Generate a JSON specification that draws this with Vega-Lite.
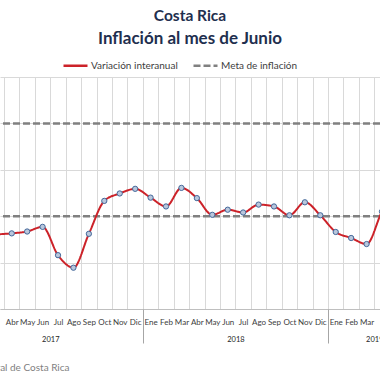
{
  "$schema": "https://vega.github.io/schema/vega-lite/v6.json",
  "autosize": {"type": "none"},
  "width": 380,
  "height": 232,
  "padding": {"left": 0, "right": 0, "top": 77, "bottom": 71},
  "background": "white",
  "title": {
    "text": "Costa Rica",
    "subtitle": "Inflación al mes de Junio",
    "anchor": "middle",
    "font": "Lato",
    "fontSize": 15.5,
    "fontWeight": "bold",
    "color": "#1F2F4F",
    "subtitleFont": "Lato",
    "subtitleFontSize": 17,
    "subtitleFontWeight": "bold",
    "subtitleColor": "#1F2F4F",
    "subtitlePadding": 7,
    "offset": 5
  },
  "config": {
    "view": {"stroke": null},
    "font": "Lato",
    "axisY": {"labels": false, "ticks": false, "domain": false, "grid": true, "gridColor": "#D9D9D9", "tickCount": 5, "title": null},
    "legend": {
      "orient": "none",
      "legendX": 62,
      "legendY": -25,
      "direction": "horizontal",
      "symbolType": "stroke",
      "symbolSize": 576,
      "symbolStrokeWidth": 2.5,
      "labelFont": "Lato",
      "labelFontSize": 10,
      "labelColor": "#404040",
      "labelOffset": 2,
      "columnPadding": 10,
      "title": null
    }
  },
  "datasets": {
    "serie": [
      {"i": 0, "mes": "Ene", "anio": 2017, "serie": "Variación interanual", "valor": 1.30},
      {"i": 1, "mes": "Feb", "anio": 2017, "serie": "Variación interanual", "valor": 1.35},
      {"i": 2, "mes": "Mar", "anio": 2017, "serie": "Variación interanual", "valor": 1.60},
      {"i": 3, "mes": "Abr", "anio": 2017, "serie": "Variación interanual", "valor": 1.63},
      {"i": 4, "mes": "May", "anio": 2017, "serie": "Variación interanual", "valor": 1.67},
      {"i": 5, "mes": "Jun", "anio": 2017, "serie": "Variación interanual", "valor": 1.77},
      {"i": 6, "mes": "Jul", "anio": 2017, "serie": "Variación interanual", "valor": 1.16},
      {"i": 7, "mes": "Ago", "anio": 2017, "serie": "Variación interanual", "valor": 0.89},
      {"i": 8, "mes": "Sep", "anio": 2017, "serie": "Variación interanual", "valor": 1.62},
      {"i": 9, "mes": "Oct", "anio": 2017, "serie": "Variación interanual", "valor": 2.33},
      {"i": 10, "mes": "Nov", "anio": 2017, "serie": "Variación interanual", "valor": 2.49},
      {"i": 11, "mes": "Dic", "anio": 2017, "serie": "Variación interanual", "valor": 2.59},
      {"i": 12, "mes": "Ene", "anio": 2018, "serie": "Variación interanual", "valor": 2.40},
      {"i": 13, "mes": "Feb", "anio": 2018, "serie": "Variación interanual", "valor": 2.21},
      {"i": 14, "mes": "Mar", "anio": 2018, "serie": "Variación interanual", "valor": 2.61},
      {"i": 15, "mes": "Abr", "anio": 2018, "serie": "Variación interanual", "valor": 2.39},
      {"i": 16, "mes": "May", "anio": 2018, "serie": "Variación interanual", "valor": 2.03},
      {"i": 17, "mes": "Jun", "anio": 2018, "serie": "Variación interanual", "valor": 2.14},
      {"i": 18, "mes": "Jul", "anio": 2018, "serie": "Variación interanual", "valor": 2.08},
      {"i": 19, "mes": "Ago", "anio": 2018, "serie": "Variación interanual", "valor": 2.25},
      {"i": 20, "mes": "Sep", "anio": 2018, "serie": "Variación interanual", "valor": 2.21},
      {"i": 21, "mes": "Oct", "anio": 2018, "serie": "Variación interanual", "valor": 2.02},
      {"i": 22, "mes": "Nov", "anio": 2018, "serie": "Variación interanual", "valor": 2.30},
      {"i": 23, "mes": "Dic", "anio": 2018, "serie": "Variación interanual", "valor": 2.02},
      {"i": 24, "mes": "Ene", "anio": 2019, "serie": "Variación interanual", "valor": 1.66},
      {"i": 25, "mes": "Feb", "anio": 2019, "serie": "Variación interanual", "valor": 1.53},
      {"i": 26, "mes": "Mar", "anio": 2019, "serie": "Variación interanual", "valor": 1.40},
      {"i": 27, "mes": "Abr", "anio": 2019, "serie": "Variación interanual", "valor": 2.10},
      {"i": 28, "mes": "May", "anio": 2019, "serie": "Variación interanual", "valor": 2.60},
      {"i": 29, "mes": "Jun", "anio": 2019, "serie": "Variación interanual", "valor": 2.40}
    ],
    "meta": [
      {"serie": "Meta de inflación", "valor": 2},
      {"serie": "Meta de inflación", "valor": 4}
    ]
  },
  "layer": [
    {
      "data": {"name": "meta"},
      "mark": {"type": "rule", "strokeWidth": 2.5},
      "encoding": {
        "y": {"field": "valor", "type": "quantitative", "title": null, "scale": {"domain": [0, 5], "nice": false}},
        "color": {"field": "serie", "type": "nominal", "scale": {"domain": ["Variación interanual", "Meta de inflación"], "range": ["#CC2229", "#808080"]}},
        "strokeDash": {"field": "serie", "type": "nominal", "scale": {"domain": ["Variación interanual", "Meta de inflación"], "range": [[1, 0], [7, 3]]}}
      }
    },
    {
      "data": {"name": "serie"},
      "mark": {"type": "line", "interpolate": "monotone", "strokeWidth": 2, "clip": true},
      "encoding": {
        "x": {
          "field": "i", "type": "quantitative", "title": null,
          "scale": {"domain": [2.24, 26.87], "nice": false, "zero": false},
          "axis": {
            "orient": "bottom",
            "values": [0,1,2,3,4,5,6,7,8,9,10,11,12,13,14,15,16,17,18,19,20,21,22,23,24,25,26,27,28,29],
            "labelExpr": "['Ene','Feb','Mar','Abr','May','Jun','Jul','Ago','Sep','Oct','Nov','Dic'][datum.value % 12]",
            "grid": false, "ticks": false, "domain": true, "domainColor": "#BFBFBF", "domainWidth": 1,
            "labelFont": "Lato", "labelFontSize": 8, "labelColor": "#404040", "labelPadding": 9,
            "labelFlush": false, "labelOverlap": false
          }
        },
        "y": {"field": "valor", "type": "quantitative", "title": null},
        "color": {"field": "serie", "type": "nominal"},
        "strokeDash": {"field": "serie", "type": "nominal"}
      }
    },
    {
      "data": {"name": "serie"},
      "mark": {"type": "point", "filled": true, "fill": "#B9C7DC", "stroke": "#44689A", "strokeWidth": 1, "size": 28, "opacity": 1, "clip": true},
      "encoding": {
        "x": {
          "field": "i", "type": "quantitative", "title": "Fuente: Banco Central de Costa Rica",
          "axis": {
            "orient": "bottom",
            "values": [0.5,1.5,2.5,3.5,4.5,5.5,6.5,7.5,8.5,9.5,10.5,11.5,12.5,13.5,14.5,15.5,16.5,17.5,18.5,19.5,20.5,21.5,22.5,23.5,24.5,25.5,26.5,27.5,28.5],
            "labelExpr": "datum.value == 5.5 ? '2017' : datum.value == 17.5 ? '2018' : datum.value == 26.5 ? '2019' : ''",
            "grid": true, "gridColor": "#D9D9D9",
            "ticks": true, "tickSize": 34, "tickColor": "#A6A6A6",
            "tickOpacity": {"condition": {"test": "datum.value == 11.5 || datum.value == 23.5", "value": 1}, "value": 0},
            "domain": false,
            "labelFont": "Lato", "labelFontSize": 7.5, "labelColor": "#262626", "labelPadding": -8,
            "labelFlush": false, "labelOverlap": false,
            "titleX": 69, "titleY": 58, "titleAlign": "right", "titleBaseline": "middle",
            "titleFont": "Lato", "titleFontSize": 10, "titleFontWeight": "normal", "titleColor": "#7F7F7F"
          }
        },
        "y": {"field": "valor", "type": "quantitative", "title": null}
      }
    }
  ],
  "resolve": {"axis": {"x": "independent"}}
}
